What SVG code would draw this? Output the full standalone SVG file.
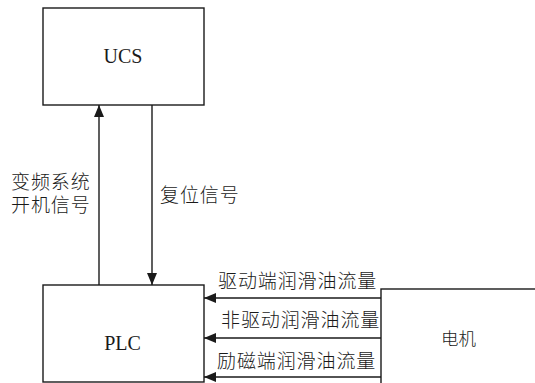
<svg xmlns="http://www.w3.org/2000/svg" width="535" height="383" viewBox="0 0 535 383">
<style>
.box{fill:#fff;stroke:#1a1a1a;stroke-width:1.4}
.ln{fill:none;stroke:#1a1a1a;stroke-width:1.4}
.en{font-family:"Liberation Serif",serif;font-size:20px;fill:#1a1a1a}
.cn{font-family:"Liberation Serif","Noto Sans CJK SC",serif;font-size:19px;font-weight:300;fill:#1a1a1a;letter-spacing:0.9px}
</style>
<defs>
<marker id="ah" viewBox="0 0 12 10" refX="12" refY="5" markerWidth="12" markerHeight="10" markerUnits="userSpaceOnUse" orient="auto">
<path d="M0,0 L12,5 L0,10 Z" fill="#1a1a1a"/>
</marker>
</defs>
<g id="ucs">
<rect class="box" x="43" y="8" width="161" height="97"/>
<text class="en" x="123" y="63" text-anchor="middle">UCS</text>
</g>
<g id="plc">
<rect class="box" x="43" y="285" width="161" height="97"/>
<text class="en" x="122.5" y="350" text-anchor="middle">PLC</text>
</g>
<g id="motor">
<rect class="box" x="381" y="289" width="200" height="120"/>
<text class="cn" x="441" y="344.5" style="font-size:17.5px;letter-spacing:0">电机</text>
</g>
<g id="connectors">
<line class="ln" x1="99" y1="285" x2="99" y2="105" marker-end="url(#ah)"/>
<line class="ln" x1="152" y1="105" x2="152" y2="285" marker-end="url(#ah)"/>
<line class="ln" x1="381" y1="298" x2="204" y2="298" marker-end="url(#ah)"/>
<line class="ln" x1="381" y1="338" x2="204" y2="338" marker-end="url(#ah)"/>
<line class="ln" x1="381" y1="377" x2="204" y2="377" marker-end="url(#ah)"/>
</g>
<g id="labels">
<text class="cn" x="11" y="188.5">变频系统</text>
<text class="cn" x="11" y="211.5">开机信号</text>
<text class="cn" x="160" y="201.5">复位信号</text>
<text class="cn" x="218" y="288">驱动端润滑油流量</text>
<text class="cn" x="221" y="327">非驱动润滑油流量</text>
<text class="cn" x="217" y="368">励磁端润滑油流量</text>
</g>
</svg>
